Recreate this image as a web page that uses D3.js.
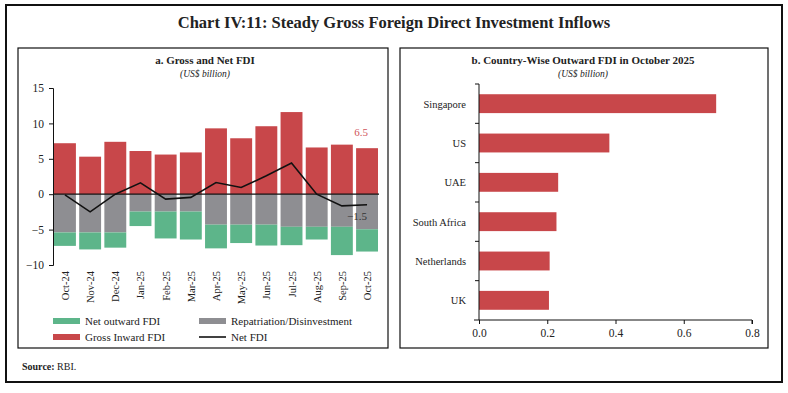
<!DOCTYPE html>
<html>
<head>
<meta charset="utf-8">
<script src="https://cdn.jsdelivr.net/npm/d3@7"></script>
<style>
  body { margin: 0; background: #fff; }
  svg text { font-family: "Liberation Serif", "DejaVu Serif", serif; fill: #222; }
</style>
</head>
<body>
<svg id="chart" width="788" height="393"></svg>
<script>
// panel a: monthly FDI flows (US$ billion)
const months = ["Oct-24", "Nov-24", "Dec-24", "Jan-25", "Feb-25", "Mar-25", "Apr-25",
  "May-25", "Jun-25", "Jul-25", "Aug-25", "Sep-25", "Oct-25"];
const grossInward = [7.2, 5.3, 7.4, 6.1, 5.6, 5.9, 9.3, 7.9, 9.6, 11.6, 6.6, 7.0, 6.5];
const repatriation = [-5.4, -5.4, -5.4, -2.45, -2.45, -2.45, -4.3, -4.3, -4.3, -4.6, -4.6, -4.6, -4.95];
const netOutward = [-1.9, -2.4, -2.15, -2.05, -3.8, -3.95, -3.35, -2.6, -2.95, -2.6, -1.8, -4.0, -3.15];
const netFDI = [-0.1, -2.5, 0.0, 1.6, -0.7, -0.45, 1.65, 0.95, 2.6, 4.4, 0.0, -1.65, -1.5];
const yTicksA = [-10, -5, 0, 5, 10, 15];

// panel b: country-wise outward FDI, October 2025
const countries = ["Singapore", "US", "UAE", "South Africa", "Netherlands", "UK"];
const outwardFDI = [0.695, 0.382, 0.232, 0.227, 0.207, 0.205];
const xTicksB = [0, 0.2, 0.4, 0.6, 0.8];

const RED = "#c8474a", GREY = "#8e8e92", GREEN = "#5db58a";

const svg = d3.select("#chart");

// outer frame and panel frames
svg.append("rect").attr("x", 6).attr("y", 5).attr("width", 776).attr("height", 377)
  .attr("fill", "none").attr("stroke", "#111").attr("stroke-width", 2);
svg.append("rect").attr("x", 18).attr("y", 48).attr("width", 370).attr("height", 300)
  .attr("fill", "none").attr("stroke", "#111").attr("stroke-width", 1.2);
svg.append("rect").attr("x", 400).attr("y", 48).attr("width", 368).attr("height", 300)
  .attr("fill", "none").attr("stroke", "#111").attr("stroke-width", 1.2);

svg.append("text").attr("x", 394).attr("y", 28).attr("text-anchor", "middle")
  .style("font-size", "16.5px").style("font-weight", "bold")
  .text("Chart IV:11: Steady Gross Foreign Direct Investment Inflows");

// source line
const src = svg.append("text").attr("x", 22).attr("y", 370).style("font-size", "10px");
src.append("tspan").style("font-weight", "bold").text("Source: ");
src.append("tspan").text("RBI.");

// ---------- panel a ----------
svg.append("text").attr("x", 205).attr("y", 64).attr("text-anchor", "middle")
  .style("font-size", "11px").style("font-weight", "bold").text("a. Gross and Net FDI");
svg.append("text").attr("x", 205).attr("y", 77).attr("text-anchor", "middle")
  .style("font-size", "9.5px").style("font-style", "italic").text("(US$ billion)");

const x = d3.scaleBand().domain(months).range([53, 379]).paddingInner(0.13).paddingOuter(0.04);
const y = d3.scaleLinear().domain([-10, 15]).range([265, 88]);

const gA = svg.append("g");

function bars(values, base, color) {
  gA.selectAll(null)
    .data(months)
    .enter()
    .append("rect")
    .attr("x", d => x(d))
    .attr("width", x.bandwidth())
    .attr("y", (d, i) => Math.min(y(base[i]), y(base[i] + values[i])))
    .attr("height", (d, i) => Math.abs(y(base[i] + values[i]) - y(base[i])))
    .attr("fill", color);
}
const zeros = months.map(() => 0);
bars(grossInward, zeros, RED);
bars(repatriation, zeros, GREY);
bars(netOutward, repatriation, GREEN);

// zero line
gA.append("line").attr("x1", 53).attr("x2", 379).attr("y1", y(0)).attr("y2", y(0))
  .attr("stroke", "#111").attr("stroke-width", 1.2);

// net FDI line
gA.append("path")
  .datum(netFDI)
  .attr("fill", "none").attr("stroke", "#111").attr("stroke-width", 1.6)
  .attr("d", d3.line().x((d, i) => x(months[i]) + x.bandwidth() / 2).y(d => y(d)));

// y axis
const yAxis = gA.append("g").attr("transform", "translate(53,0)")
  .call(d3.axisLeft(y).tickValues(yTicksA).tickSize(4).tickPadding(5));
yAxis.select(".domain").attr("stroke", "#111");
yAxis.selectAll(".tick line").attr("stroke", "#111");
yAxis.selectAll("text").style("font-size", "11.5px").style("font-family", "Liberation Serif, serif").attr("fill", "#333");

// month labels
gA.selectAll(".mlab")
  .data(months)
  .enter()
  .append("text")
  .attr("class", "mlab")
  .attr("transform", d => `translate(${x(d) + x.bandwidth() / 2 + 4},271) rotate(-90)`)
  .attr("text-anchor", "end")
  .style("font-size", "10.5px")
  .attr("fill", "#333")
  .text(d => d);

// annotations for latest month
const last = months.length - 1;
gA.append("text").attr("x", x(months[last]) + x.bandwidth() / 2 - 6).attr("y", y(grossInward[last]) - 12)
  .attr("text-anchor", "middle").style("font-size", "11px").style("fill", "#d0555a")
  .text(d3.format(".1f")(grossInward[last]));
gA.append("text").attr("x", x(months[last]) + x.bandwidth() / 2 - 10).attr("y", y(netFDI[last]) + 15)
  .attr("text-anchor", "middle").style("font-size", "11px").style("fill", "#333")
  .text(d3.format(".1f")(netFDI[last]));

// legend
const legendA = [
  { label: "Net outward FDI", color: GREEN, x: 53, y: 321, type: "rect" },
  { label: "Repatriation/Disinvestment", color: GREY, x: 199, y: 321, type: "rect" },
  { label: "Gross Inward FDI", color: RED, x: 53, y: 337, type: "rect" },
  { label: "Net FDI", color: "#111", x: 199, y: 337, type: "line" }
];
legendA.forEach(l => {
  if (l.type === "rect") {
    svg.append("rect").attr("x", l.x).attr("y", l.y - 3).attr("width", 27).attr("height", 6).attr("fill", l.color);
  } else {
    svg.append("line").attr("x1", l.x).attr("x2", l.x + 27).attr("y1", l.y).attr("y2", l.y)
      .attr("stroke", l.color).attr("stroke-width", 1.6);
  }
  svg.append("text").attr("x", l.x + 32).attr("y", l.y + 4).style("font-size", "11px").attr("fill", "#333").text(l.label);
});

// ---------- panel b ----------
svg.append("text").attr("x", 583).attr("y", 64).attr("text-anchor", "middle")
  .style("font-size", "11px").style("font-weight", "bold").text("b. Country-Wise Outward FDI in October 2025");
svg.append("text").attr("x", 583).attr("y", 77).attr("text-anchor", "middle")
  .style("font-size", "9.5px").style("font-style", "italic").text("(US$ billion)");

const xb = d3.scaleLinear().domain([0, 0.8]).range([479, 752]);
const yb = d3.scaleBand().domain(countries).range([84, 320]).paddingInner(0.52).paddingOuter(0.26);

const gB = svg.append("g");
gB.selectAll("rect")
  .data(countries)
  .enter()
  .append("rect")
  .attr("x", xb(0))
  .attr("y", d => yb(d))
  .attr("height", yb.bandwidth())
  .attr("width", (d, i) => xb(outwardFDI[i]) - xb(0))
  .attr("fill", RED);

// x axis
const xAxisB = gB.append("g").attr("transform", "translate(0,320)")
  .call(d3.axisBottom(xb).tickValues(xTicksB).tickFormat(d3.format(".1f")).tickSize(4).tickPadding(5));
xAxisB.select(".domain").attr("d", "M474,0H752V4");
xAxisB.selectAll("line, .domain").attr("stroke", "#111");
xAxisB.selectAll("text").style("font-size", "11.5px").style("font-family", "Liberation Serif, serif").attr("fill", "#333");

// y axis with ticks on band boundaries
gB.append("line").attr("x1", 479).attr("x2", 479).attr("y1", 84).attr("y2", 320).attr("stroke", "#111");
gB.selectAll(".bt")
  .data(d3.range(countries.length))
  .enter()
  .append("line")
  .attr("x1", 475).attr("x2", 479)
  .attr("y1", i => 84 + i * yb.step())
  .attr("y2", i => 84 + i * yb.step())
  .attr("stroke", "#111");
gB.selectAll(".clab")
  .data(countries)
  .enter()
  .append("text")
  .attr("x", 466)
  .attr("y", d => yb(d) + yb.bandwidth() / 2 + 4)
  .attr("text-anchor", "end")
  .style("font-size", "10.5px")
  .attr("fill", "#333")
  .text(d => d);
</script>
</body>
</html>
